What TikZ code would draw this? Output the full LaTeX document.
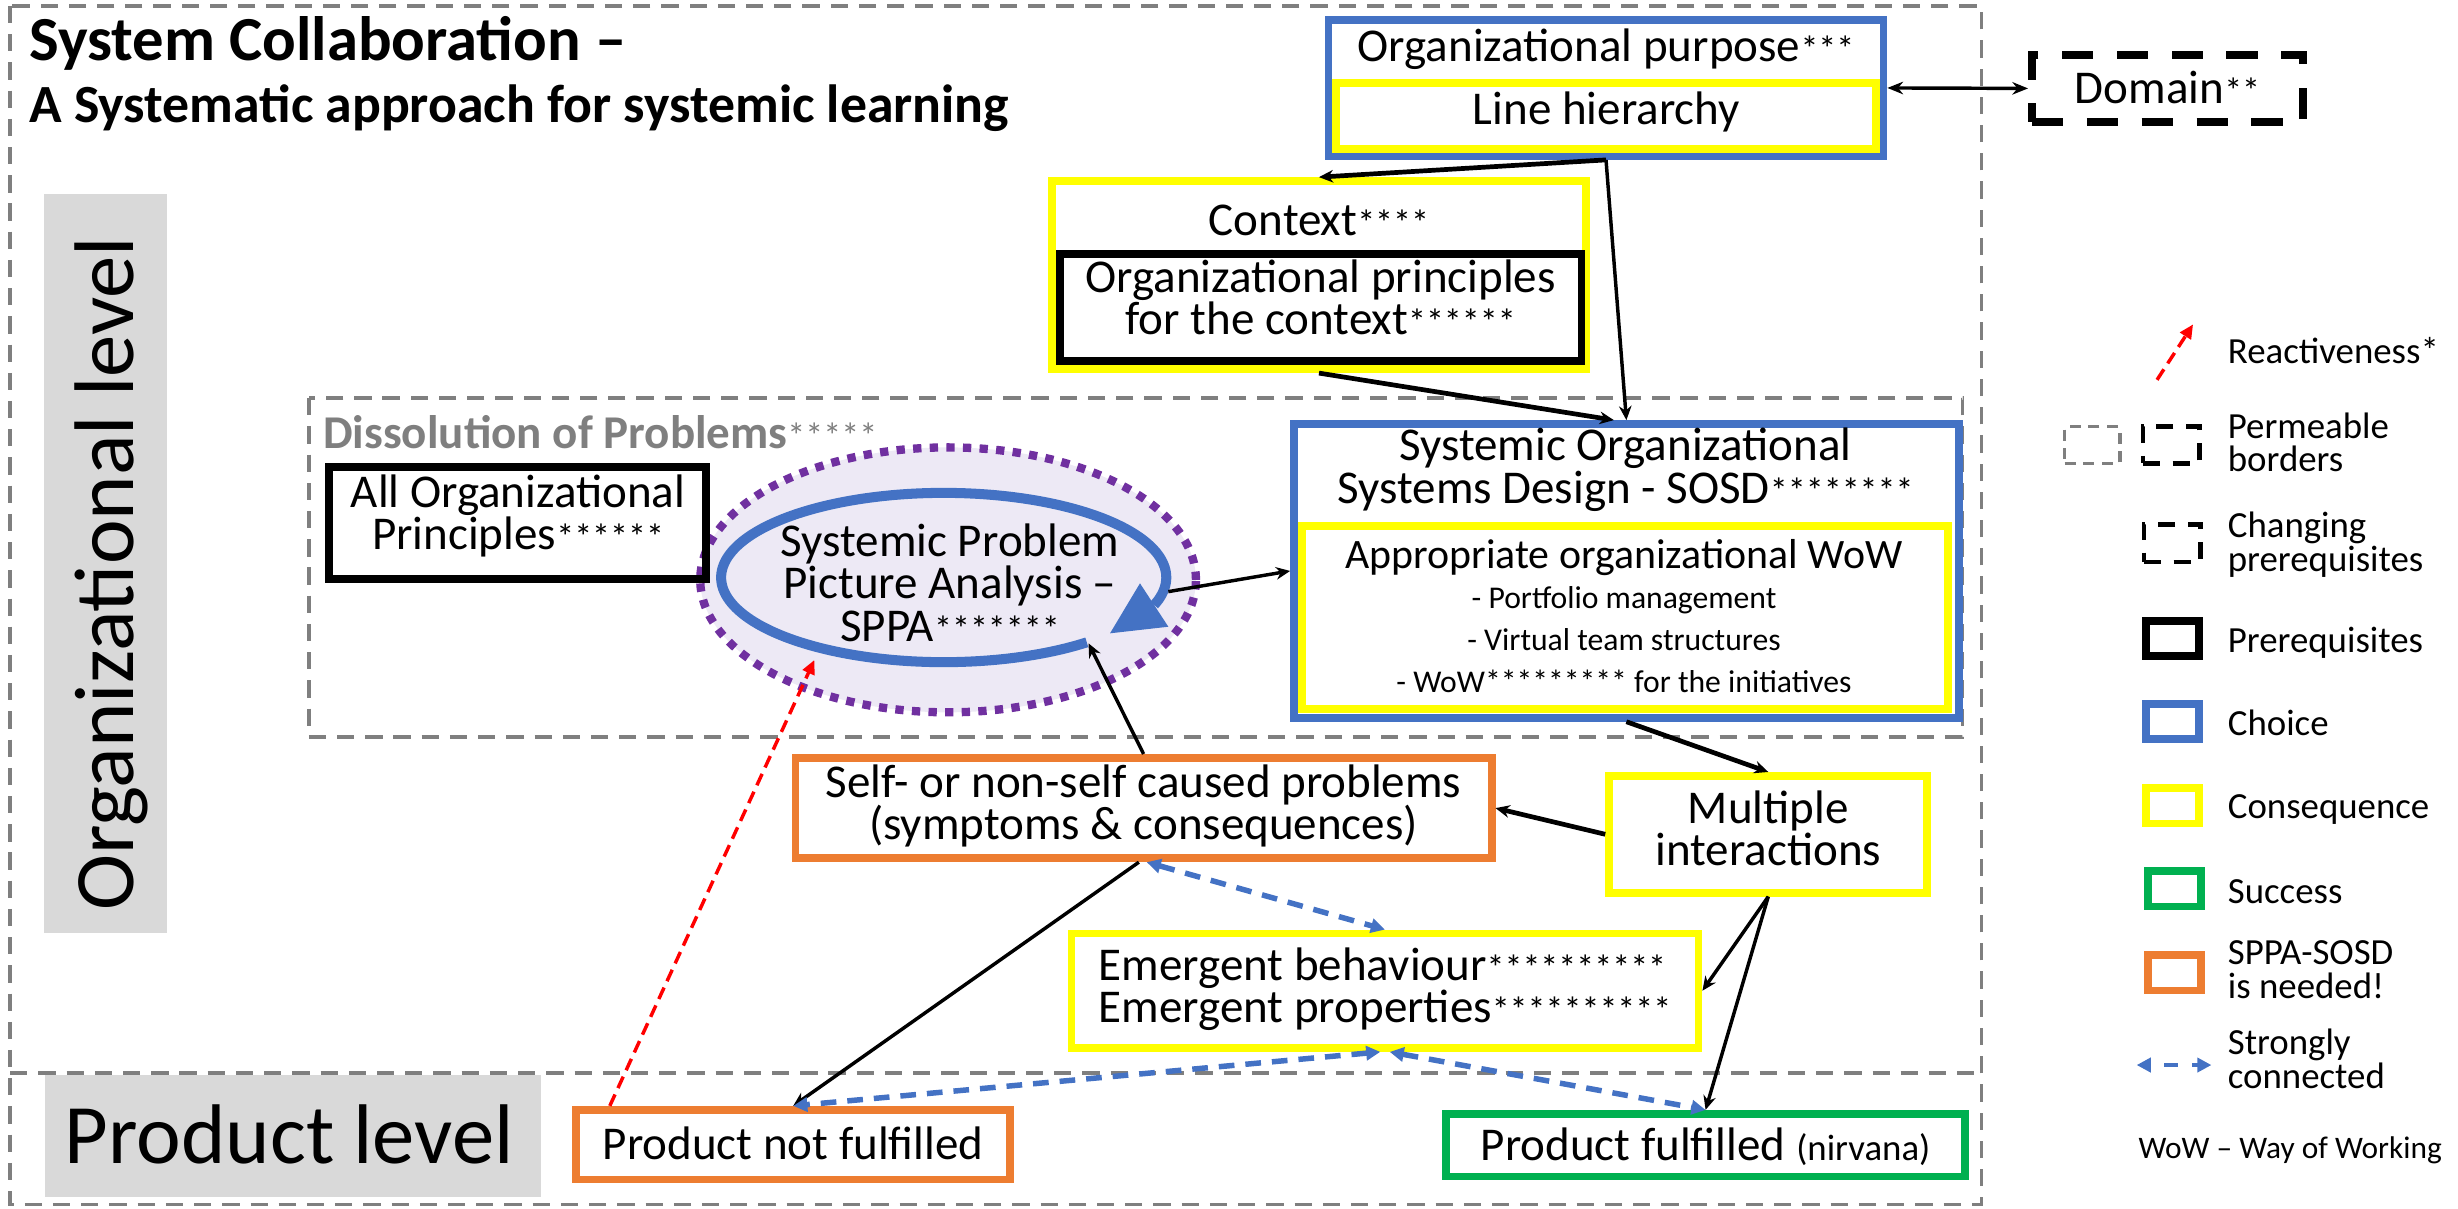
\documentclass[tikz,border=0pt]{standalone}
\usepackage{fontspec}
\setmainfont{Carlito}
\usetikzlibrary{arrows.meta,positioning,shapes.geometric}

\definecolor{choiceblue}{HTML}{4472C4}
\definecolor{consyellow}{HTML}{FFFF00}
\definecolor{succgreen}{HTML}{00B050}
\definecolor{needorange}{HTML}{ED7D31}
\definecolor{bordergray}{HTML}{7F7F7F}
\definecolor{levelgray}{HTML}{D9D9D9}
\definecolor{sppapurple}{HTML}{7030A0}
\definecolor{sppafill}{HTML}{EDE9F5}

% struts so that a node's centre sits on the cap-height middle
\newcommand\captop{\rule{0pt}{0.894em}}
\newcommand\capbot{\rule[-0.25em]{0pt}{0.25em}}
\newcommand\stars[1]{{\fontsize{23}{23}\selectfont#1}}
\lineskiplimit=-\maxdimen

\begin{document}
\begin{tikzpicture}[x=1pt,y=-1pt,
    choice/.style={draw=choiceblue,line width=5pt},
    cons/.style={draw=consyellow,line width=5pt},
    prereq/.style={draw=black,line width=5pt},
    success/.style={draw=succgreen,line width=5pt},
    needed/.style={draw=needorange,line width=5pt},
    txt/.style={inner sep=0pt,align=center,font=\fontsize{30}{27}\selectfont,
      execute at begin node=\captop,execute at end node=\capbot},
    legtxt/.style={txt,anchor=west,align=left,font=\fontsize{23.5}{21.5}\selectfont},
    border/.style={bordergray,line width=2.2pt,dash pattern=on 11pt off 7pt},
    arr/.style={-{Stealth[length=9pt,width=8pt]},line width=2.2pt},
    thickarr/.style={arr,line width=3pt},
    strong/.style={{Triangle[length=9pt,width=9pt]}-{Triangle[length=9pt,width=9pt]},
      choiceblue,line width=3.5pt,dash pattern=on 10pt off 7pt},
    react/.style={-{Triangle[length=9pt,width=8pt]},red,line width=2.2pt,
      dash pattern=on 8pt off 4.5pt}]
    \useasboundingbox (0,0) rectangle (1568,771);

    % frames and levels
    \draw[border] (6.5,3.8) rectangle (1264,768.5);
    \draw[border] (6.5,684.6) -- (1264,684.6);
    \draw[border] (197,254) rectangle (1252,470);
    \fill[levelgray] (28,123.6) rectangle (106.3,595);
    \fill[levelgray] (28.5,686) rectangle (345,763.4);
    \node[txt,rotate=90,font=\fontsize{54}{54}\selectfont] (orglevel) at (68,366) {Organizational level};
    \node[txt,font=\fontsize{54}{54}\selectfont] (prodlevel) at (184.5,725) {Product level};

    \node[txt,anchor=west,font=\bfseries\fontsize{40}{40}\selectfont] (title) at (18.5,26) {System Collaboration –};
    \node[txt,anchor=west,font=\bfseries\fontsize{34.3}{34.3}\selectfont] (subtitle) at (18.5,67) {A Systematic approach for systemic learning};

    % purpose and domain
    \node[choice,minimum width=354,minimum height=86.8] (purpose) at (1024.5,56.1) {};
    \node[cons,minimum width=344.5,minimum height=42.4] (linehier) at (1024.7,74.1) {};
    \node[txt] (purposetxt) at (1024.5,29.8) {Organizational purpose\stars{***}};
    \node[txt] (linehiertxt) at (1024.7,70) {Line hierarchy};
    \node[txt,draw,line width=5pt,dash pattern=on 20pt off 15pt,minimum width=173,minimum height=43.1] (domain) at (1382.7,56.4) {Domain\stars{**}};

    % context
    \node[cons,minimum width=340.9,minimum height=120] (context) at (841.4,175.5) {};
    \node[prereq,minimum width=332.8,minimum height=68.3] (principles) at (842.5,196.2) {};
    \node[txt] (contexttxt) at (841.4,140.4) {Context\stars{****}};
    \node[txt] (principlestxt) at (842.5,193.4) {Organizational principles\\for the context\stars{******}};

    % dissolution of problems
    \node[txt,anchor=west,text=bordergray,font=\bfseries\fontsize{30}{30}\selectfont] (dissolution) at (206,276.4) {Dissolution of Problems{\mdseries\stars{*****}}};
    \node[ellipse,draw=sppapurple,fill=sppafill,line width=5.3pt,dash pattern=on 5.3pt off 5.3pt,
      minimum width=316.2,minimum height=169,inner sep=0pt] (sppa) at (604.8,369.9) {};
    \node[prereq,minimum width=240.5,minimum height=71.5] (allorg) at (330.2,333.7) {};
    \node[txt] (allorgtxt) at (330.5,330.6) {All Organizational\\Principles\stars{******}};
    \draw[choiceblue,line width=6.4pt] plot[domain=50:379,samples=90,smooth] ({602+142*cos(\x)},{368.4+54*sin(\x)});
    \fill[choiceblue] (727.2,372.1) -- (745.3,399.8) -- (708.1,404) -- cycle;
    \node[txt] (sppatxt) at (606,375.3) {Systemic Problem\\Picture Analysis –\\SPPA\stars{*******}};
    \coordinate (arcfoot) at (694.4,410.4);
    \coordinate (arcleft) at (519.5,421);
    \coordinate (arcright) at (745.3,377.4);

    % design
    \node[choice,minimum width=424,minimum height=187.4] (sosd) at (1037.5,364.2) {};
    \node[cons,minimum width=412,minimum height=117.2] (wow) at (1036.5,393.9) {};
    \node[txt] (sosdtxt) at (1037,300.8) {Systemic Organizational\\Systems Design - SOSD\stars{********}};
    \node[txt,font=\fontsize{26.7}{26.7}\selectfont] (wowtxt) at (1036,354) {Appropriate organizational WoW};
    \node[txt,font=\fontsize{20.2}{26.6}\selectfont] (wowlist) at (1036,410.5) {- Portfolio management\\- Virtual team structures\\- WoW********* for the initiatives};

    % problems and products
    \node[needed,txt,minimum width=444,minimum height=64] (self) at (729.5,515.5) {Self- or non-self caused problems\\(symptoms \& consequences)};
    \node[cons,txt,minimum width=203,minimum height=74.5] (multi) at (1128,532.2) {Multiple\\interactions};
    \node[cons,txt,align=left,minimum width=400,minimum height=73] (emergent) at (883.5,632) {Emergent behaviour\stars{**********}\\Emergent properties\stars{**********}};
    \node[needed,txt,minimum width=277,minimum height=44.5] (notful) at (506,730.2) {Product not fulfilled};
    \node[success,txt,minimum width=331,minimum height=40] (fulfilled) at (1088,730.5) {Product fulfilled {\fontsize{23.5}{23.5}\selectfont(nirvana)}};

    % connectors
    \draw[{Stealth[length=10pt,width=8pt]}-{Stealth[length=10pt,width=8pt]},line width=2.2pt] (purpose.east) -- (domain.west);
    \draw[thickarr] (purpose.south) -- (context.north);
    \draw[arr] (purpose.south) -- (sosd.north);
    \draw[thickarr] (context.south) -- ([xshift=-8pt]sosd.north);
    \draw[arr] (arcright) -- (sosd.west);
    \draw[arr] (self.north) -- (arcfoot);
    \draw[arr] ([xshift=-3pt]self.south) -- (notful.north);
    \draw[thickarr] (multi.west) -- (self.east);
    \draw[thickarr] (sosd.south) -- (multi.north);
    \draw[arr] (multi.south) -- (emergent.east);
    \draw[arr] (multi.south) -- (fulfilled.north);
    \draw[strong] ([xshift=2pt]self.south) -- (emergent.north);
    \draw[strong] ([xshift=-3pt]emergent.south) -- (notful.north);
    \draw[strong] ([xshift=3pt]emergent.south) -- (fulfilled.north);
    \draw[react] ([xshift=-117pt]notful.north) -- (arcleft);

    % legend
    \coordinate (reacttail) at (1376,242.3);
    \coordinate (reacttip) at (1399,206.9);
    \draw[react] (reacttail) -- (reacttip);
    \node[legtxt] (reactlbl) at (1421,224.5) {Reactiveness*};
    \node[draw=bordergray,line width=2pt,dash pattern=on 7pt off 5pt,minimum width=35.4,minimum height=23.4,inner sep=0pt] (legpermgray) at (1334.7,283.9) {};
    \node[draw,line width=3pt,dash pattern=on 11pt off 8pt,minimum width=36,minimum height=23.4,inner sep=0pt] (legperm) at (1385,283.9) {};
    \node[legtxt] (permlbl) at (1421,285.1) {Permeable\\borders};
    \node[draw,line width=3pt,dash pattern=on 11pt off 8pt,minimum width=36,minimum height=24,inner sep=0pt] (legchange) at (1385.6,346.5) {};
    \node[legtxt] (changelbl) at (1421,348.6) {Changing\\prerequisites};
    \node[prereq,minimum width=34,minimum height=22.5,inner sep=0pt] (legprereq) at (1386,407.4) {};
    \node[legtxt] (prereqlbl) at (1421,408.5) {Prerequisites};
    \node[choice,minimum width=34,minimum height=22.5,inner sep=0pt] (legchoice) at (1386,460.4) {};
    \node[legtxt] (choicelbl) at (1421,461.3) {Choice};
    \node[cons,minimum width=34,minimum height=22.5,inner sep=0pt] (legcons) at (1386,514.1) {};
    \node[legtxt] (conslbl) at (1421,514.6) {Consequence};
    \node[success,minimum width=34,minimum height=22.5,inner sep=0pt] (legsuccess) at (1387,567) {};
    \node[legtxt] (successlbl) at (1421,568.8) {Success};
    \node[needed,minimum width=34,minimum height=22.5,inner sep=0pt] (legneeded) at (1387,620.6) {};
    \node[legtxt] (neededlbl) at (1421,621.4) {SPPA-SOSD\\is needed!};
    \coordinate (strongleft) at (1363,679.4);
    \coordinate (strongright) at (1410.7,679.4);
    \draw[strong,line width=3pt,dash pattern=on 9pt off 9pt,dash phase=9pt] (strongleft) -- (strongright);
    \node[legtxt] (stronglbl) at (1421,678.4) {Strongly\\connected};
    \node[legtxt,font=\fontsize{20}{20}\selectfont] (wowlbl) at (1364,732.5) {WoW – Way of Working};
\end{tikzpicture}
\end{document}
